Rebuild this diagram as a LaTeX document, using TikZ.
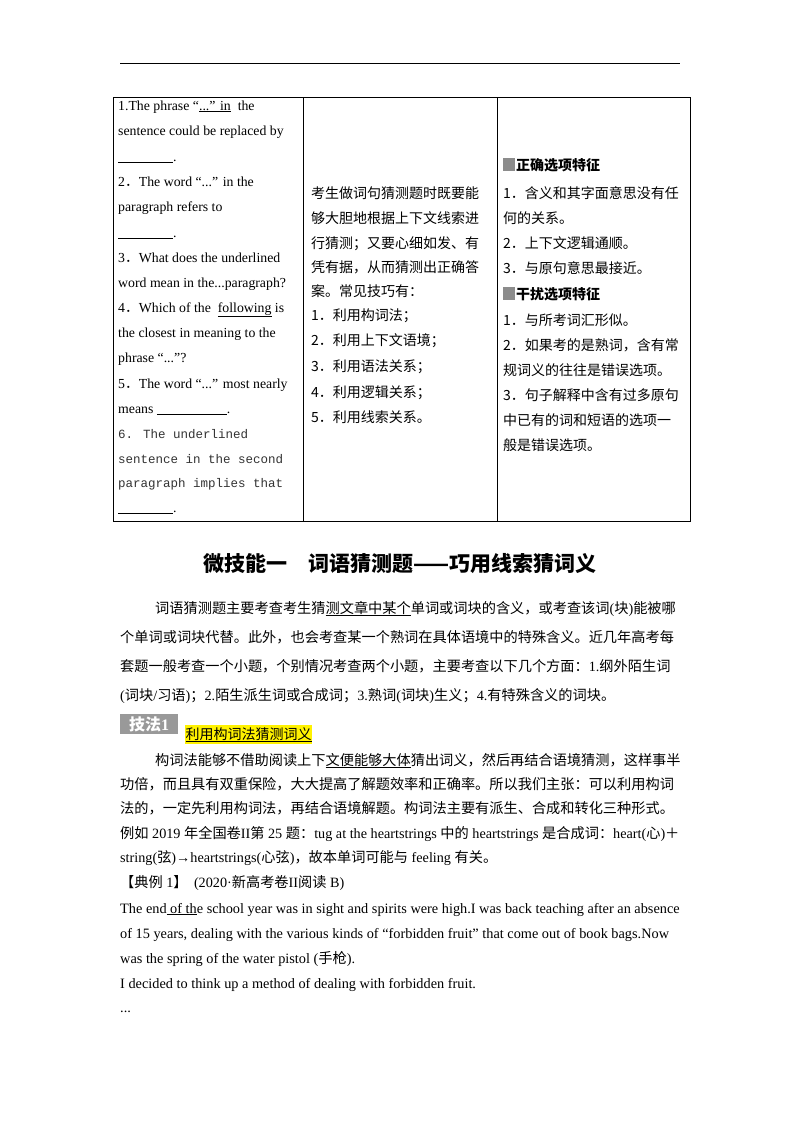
\documentclass[tikz,border=0pt]{standalone}
\usepackage{fontspec}
\setmainfont{Noto Sans CJK SC}
\newfontfamily\en{Liberation Serif}
\newfontfamily\mono{Liberation Mono}
\newcommand{\E}[1]{{\en #1}}
\newcommand{\bl}[1]{\rule[-1.5pt]{#1}{0.5pt}}
\begin{document}
\begin{tikzpicture}[x=1pt,y=-1pt,
  t/.style={anchor=base west,inner sep=0pt,font=\fontsize{13.8}{14}\selectfont},
  e/.style={anchor=base west,inner sep=0pt,font=\fontsize{14.3}{15}\selectfont},
  c/.style={anchor=base west,inner sep=0pt,font=\fontsize{14}{14}\selectfont},
  b/.style={anchor=base west,inner sep=0pt,font=\fontsize{14.2}{14}\selectfont},
  mo/.style={anchor=base west,inner sep=0pt,font=\fontsize{12.5}{13}\mono,text=black!80}]
\useasboundingbox (0,0) rectangle (800,1132);
\fill[white] (0,0) rectangle (800,1132);
\draw[line width=0.8pt] (120,63) -- (680,63);
% table
\draw[line width=0.7pt] (113,97) rectangle (690,521);
\draw[line width=0.7pt] (303,97) -- (303,521) (497,97) -- (497,521);
% left column
\node[t] (l1) at (118,110) {\E{1.The phrase “\underline{...” in}\ \ the}};
\node[t] (l2) at (118,135) {\E{sentence could be replaced by}};
\node[t] (l3) at (118,161) {\E{\bl{55pt}.}};
\node[t] (l4) at (118,186) {\E{2}．\E{The word “...” in the}};
\node[t] (l5) at (118,211) {\E{paragraph refers to}};
\node[t] (l6) at (118,237) {\E{\bl{55pt}.}};
\node[t] (l7) at (118,262) {\E{3}．\E{What does the underlined}};
\node[t] (l8) at (118,287) {\E{word mean in the...paragraph?}};
\node[t] (l9) at (118,312) {\E{4}．\E{Which of the \ \underline{following} is}};
\node[t] (l10) at (118,337) {\E{the closest in meaning to the}};
\node[t] (l11) at (118,362) {\E{phrase “...”?}};
\node[t] (l12) at (118,388) {\E{5}．\E{The word “...” most nearly}};
\node[t] (l13) at (118,413) {\E{means \bl{70pt}.}};
\node[mo] (l14) at (118,438) {6. The underlined};
\node[mo] (l15) at (118,463) {sentence in the second};
\node[mo] (l16) at (118,487) {paragraph implies that};
\node[t] (l17) at (118,512) {\E{\bl{55pt}.}};
% middle column
\node[c] (m1) at (311,198) {考生做词句猜测题时既要能};
\node[c] (m2) at (311,223) {够大胆地根据上下文线索进};
\node[c] (m3) at (311,248) {行猜测；又要心细如发、有};
\node[c] (m4) at (311,272) {凭有据，从而猜测出正确答};
\node[c] (m5) at (311,296) {案。常见技巧有：};
\node[c] (m6) at (311,320) {1．利用构词法；};
\node[c] (m7) at (311,345) {2．利用上下文语境；};
\node[c] (m8) at (311,371) {3．利用语法关系；};
\node[c] (m9) at (311,397) {4．利用逻辑关系；};
\node[c] (m10) at (311,422) {5．利用线索关系。};
% right column
\fill[black!45] (503,158) rectangle (515,171);
\node[c,font=\fontsize{14}{14}\selectfont\bfseries] (r0) at (516,170) {正确选项特征};
\node[c] (r1) at (503,198) {1．含义和其字面意思没有任};
\node[c] (r2) at (503,223) {何的关系。};
\node[c] (r3) at (503,248) {2．上下文逻辑通顺。};
\node[c] (r4) at (503,273) {3．与原句意思最接近。};
\fill[black!45] (503,287) rectangle (515,300);
\node[c,font=\fontsize{14}{14}\selectfont\bfseries] (r5) at (516,299) {干扰选项特征};
\node[c] (r6) at (503,325) {1．与所考词汇形似。};
\node[c] (r7) at (503,350) {2．如果考的是熟词，含有常};
\node[c] (r8) at (503,375) {规词义的往往是错误选项。};
\node[c] (r9) at (503,400) {3．句子解释中含有过多原句};
\node[c] (r10) at (503,425) {中已有的词和短语的选项一};
\node[c] (r11) at (503,450) {般是错误选项。};
% heading
\node[anchor=base,inner sep=0pt,font=\fontsize{21}{21}\selectfont\bfseries] (h) at (400,571) {微技能一　词语猜测题——巧用线索猜词义};
% paragraph 1
\node[b] (p1) at (155,613) {词语猜测题主要考查考生猜\underline{测文章中某个}单词或词块的含义，或考查该词\E{(}块\E{)}能被哪};
\node[b] (p2) at (120,642) {个单词或词块代替。此外，也会考查某一个熟词在具体语境中的特殊含义。近几年高考每};
\node[b] (p3) at (120,671) {套题一般考查一个小题，个别情况考查两个小题，主要考查以下几个方面：\E{1.}纲外陌生词};
\node[b] (p4) at (120,700) {\E{(}词块\E{/}习语\E{)}；\E{2.}陌生派生词或合成词；\E{3.}熟词\E{(}词块\E{)}生义；\E{4.}有特殊含义的词块。};
% skill label
\node[fill=black!40,text=white,inner sep=0pt,minimum width=58pt,minimum height=20pt,font=\fontsize{16}{16}\selectfont\bfseries] (k) at (149,724) {技法\E{\bfseries 1}};
\node[anchor=base west,inner xsep=0.5pt,inner ysep=2pt,fill=yellow,font=\fontsize{14}{14}\selectfont] (kt) at (185,739) {\underline{利用构词法猜测词义}};
% paragraph 2
\node[b] (q1) at (155,765) {构词法能够不借助阅读上下\underline{文便能够大体}猜出词义，然后再结合语境猜测，这样事半};
\node[b] (q2) at (120,789) {功倍，而且具有双重保险，大大提高了解题效率和正确率。所以我们主张：可以利用构词};
\node[b] (q3) at (120,813) {法的，一定先利用构词法，再结合语境解题。构词法主要有派生、合成和转化三种形式。};
\node[b] (q4) at (120,838) {例如\E{ 2019 }年全国卷\E{II}第\E{ 25 }题：\E{tug at the heartstrings }中的\E{ heartstrings }是合成词：\E{heart(}心\E{)}＋};
\node[b] (q5) at (120,862) {\E{string(}弦\E{)→heartstrings(}心弦\E{)}，故本单词可能与\E{ feeling }有关。};
\node[b] (q6) at (120,887) {【典例\E{ 1}】\ \ \E{(2020·}新高考卷\E{II}阅读\E{ B)}};
\node[e] (q7) at (120,913) {\E{The end\underline{\ of th}e school year was in sight and spirits were high.I was back teaching after an absence}};
\node[e] (q8) at (120,938) {\E{of 15 years, dealing with the various kinds of “forbidden fruit” that come out of book bags.Now}};
\node[e] (q9) at (120,963) {\E{was the spring of the water pistol (}手枪\E{).}};
\node[e] (q10) at (120,988) {\E{I decided to think up a method of dealing with forbidden fruit.}};
\node[e] (q11) at (120,1012) {\E{...}};
\end{tikzpicture}
\end{document}
